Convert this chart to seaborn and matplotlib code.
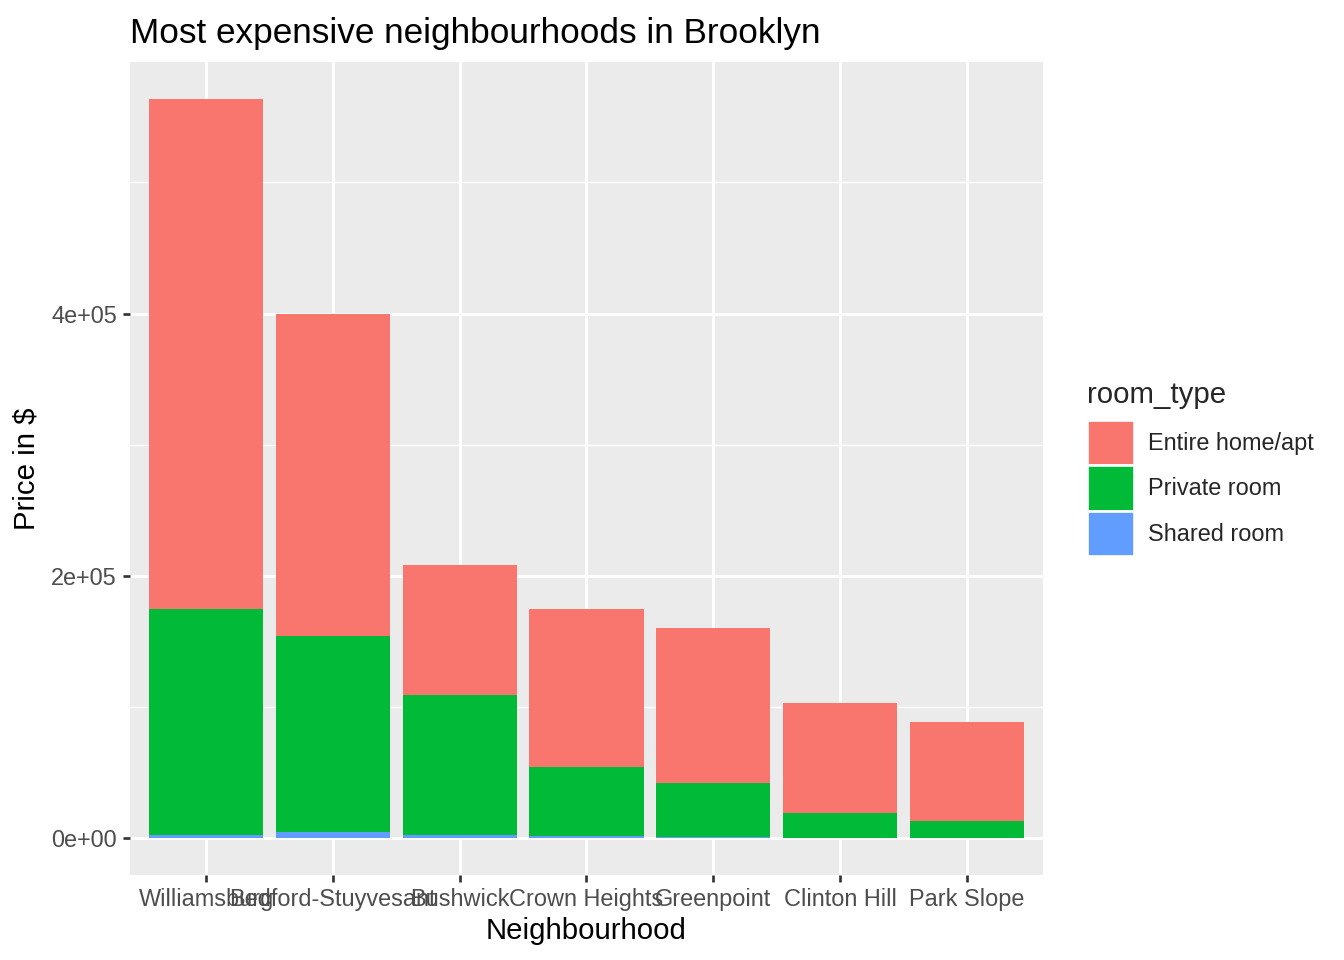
import numpy as np
import pandas as pd
import seaborn as sns
import matplotlib.pyplot as plt
from matplotlib.patches import Patch
from matplotlib.ticker import MultipleLocator

# Valores (soma de preços por tipo de quarto)
neighbourhoods = ['Williamsburg', 'Bedford-Stuyvesant', 'Bushwick', 'Crown Heights',
                  'Greenpoint', 'Clinton Hill', 'Park Slope']
entire_home = [388700, 245000, 98600, 120500, 118500, 84200, 75700]
private_room = [172500, 149800, 107000, 52800, 41100, 18900, 12800]
shared_room = [2500, 4600, 2500, 1700, 1000, 200, 100]
room_types = ['Entire home/apt', 'Private room', 'Shared room']
colors = ['#F8766D', '#00BA38', '#619CFF']

df = pd.DataFrame({'neighbourhood': neighbourhoods,
                   'Entire home/apt': entire_home,
                   'Private room': private_room,
                   'Shared room': shared_room})

# alturas acumuladas para empilhar as barras
df['top_shared'] = df['Shared room']
df['top_private'] = df['top_shared'] + df['Private room']
df['top_entire'] = df['top_private'] + df['Entire home/apt']

sns.set_theme(style='darkgrid')
plt.rcParams['font.family'] = ['Liberation Sans', 'DejaVu Sans']

fig = plt.figure(figsize=(7, 5), dpi=192)
ax = fig.add_axes([0.0967, 0.0885, 0.776 - 0.0967, 0.9354 - 0.0885])
ax.set_facecolor('#EBEBEB')

for col, c in zip(['top_entire', 'top_private', 'top_shared'], colors):
    sns.barplot(data=df, x='neighbourhood', y=col, color=c, width=0.9,
                saturation=1, ax=ax, zorder=2, linewidth=0)

ymax = df['top_entire'].max()
ax.set_ylim(-0.05 * ymax, 1.05 * ymax)
ax.set_xlim(-0.6, 6.6)

ax.yaxis.set_minor_locator(MultipleLocator(100000))
ax.set_yticks([0, 200000, 400000])
ax.set_yticklabels(['0e+00', '2e+05', '4e+05'])

ax.grid(which='major', color='white', linewidth=1.1, zorder=0)
ax.grid(which='minor', axis='y', color='white', linewidth=0.55, zorder=0)
ax.set_axisbelow(True)
for s in ax.spines.values():
    s.set_visible(False)

ax.tick_params(axis='both', which='major', length=2.75, width=1.0, color='#333333',
               labelsize=8.8, labelcolor='#4D4D4D', pad=2.2, bottom=True, left=True)
ax.tick_params(axis='both', which='minor', length=0)

ax.set_xlabel('Neighbourhood', fontsize=11, color='black', labelpad=2)
ax.set_ylabel('Price in $', fontsize=11, color='black', labelpad=4)
ax.set_title('Most expensive neighbourhoods in Brooklyn', loc='left',
             fontsize=13.2, color='black', pad=7)

handles = [Patch(facecolor=c, edgecolor='white', linewidth=1) for c in colors]
leg = fig.legend(handles, room_types, title='room_type', loc='upper left',
                 bbox_to_anchor=(1078 / 1344, 1 - 372 / 960), frameon=False,
                 fontsize=8.8, title_fontsize=11, handlelength=2.0, handleheight=2.6,
                 labelspacing=0.0, handletextpad=0.6, alignment='left', borderaxespad=0)
leg._legend_box.sep = 4

plt.savefig('out.png', dpi=192)
